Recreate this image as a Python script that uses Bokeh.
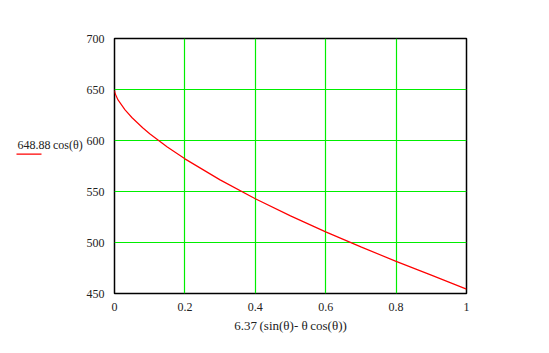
from bokeh.plotting import figure
from bokeh.layouts import row
from bokeh.models import Range1d, FixedTicker
from bokeh.core.properties import value
from bokeh.embed import file_html
from bokeh.resources import INLINE

# values
x_vals = [0.0, 0.002, 0.01, 0.03, 0.05, 0.08, 0.1, 0.15, 0.2, 0.3, 0.4, 0.5,
          0.6, 0.7, 0.8, 0.9, 1.0]
y_vals = [648.9, 645.8, 639.8, 630.0, 622.3, 612.5, 606.6, 593.6, 582.0, 561.4,
          542.9, 526.1, 510.4, 495.7, 481.5, 468.0, 454.3]
x_ticks = [0, 0.2, 0.4, 0.6, 0.8, 1]
y_ticks = [450, 500, 550, 600, 650, 700]
series_name = "648.88\u2009cos(\u03b8)"
x_title = "6.37\u2009(sin(\u03b8)- \u03b8\u2009cos(\u03b8))"

FONT = "Liberation Serif"
GREEN = "#00ee00"
LEG_W = 83

# ---- legend panel (left) ----
leg = figure(width=LEG_W, height=353, output_backend="svg", toolbar_location=None,
             x_range=Range1d(0, LEG_W), y_range=Range1d(353, 0),
             x_axis_type=None, y_axis_type=None, min_border=0)
leg.outline_line_color = None
leg.background_fill_color = "white"
leg.border_fill_color = "white"
leg.text(x=[17], y=[147], text=[series_name], text_font=value(FONT),
         text_font_size="12px", text_baseline="middle", text_color="#222222")
leg.segment(x0=[16], y0=[160], x1=[41], y1=[160], line_color="red", line_width=1.2)

# ---- main chart ----
p = figure(width=549 - LEG_W, height=353, output_backend="svg", toolbar_location=None,
           x_range=Range1d(0, 1), y_range=Range1d(450, 700),
           min_border_left=114 - LEG_W, min_border_right=83, min_border_top=38,
           min_border_bottom=60)
p.background_fill_color = "white"
p.border_fill_color = "white"
p.outline_line_color = "black"
p.outline_line_width = 1.5

for ax in (p.xaxis[0], p.yaxis[0]):
    ax.axis_line_color = None
    ax.major_tick_line_color = None
    ax.minor_tick_line_color = None
    ax.major_label_text_font = FONT
    ax.major_label_text_font_size = "12px"
    ax.major_label_text_color = "#222222"

p.xaxis[0].ticker = FixedTicker(ticks=x_ticks)
p.yaxis[0].ticker = FixedTicker(ticks=y_ticks)
p.xaxis[0].major_label_standoff = 3
p.yaxis[0].major_label_standoff = 4
p.xaxis[0].axis_label = x_title
p.xaxis[0].axis_label_text_font = FONT
p.xaxis[0].axis_label_text_font_size = "13px"
p.xaxis[0].axis_label_text_font_style = "normal"
p.xaxis[0].axis_label_text_color = "#222222"
p.xaxis[0].axis_label_standoff = 4

p.xgrid[0].ticker = FixedTicker(ticks=[0.2, 0.4, 0.6, 0.8])
p.ygrid[0].ticker = FixedTicker(ticks=[500, 550, 600, 650, 700])
for g in (p.xgrid[0], p.ygrid[0]):
    g.grid_line_color = GREEN
    g.grid_line_width = 1.2

p.line(x_vals, y_vals, line_color="red", line_width=1.2)

layout = row(leg, p, spacing=0)
open("out.html", "w").write(file_html(layout, INLINE))
